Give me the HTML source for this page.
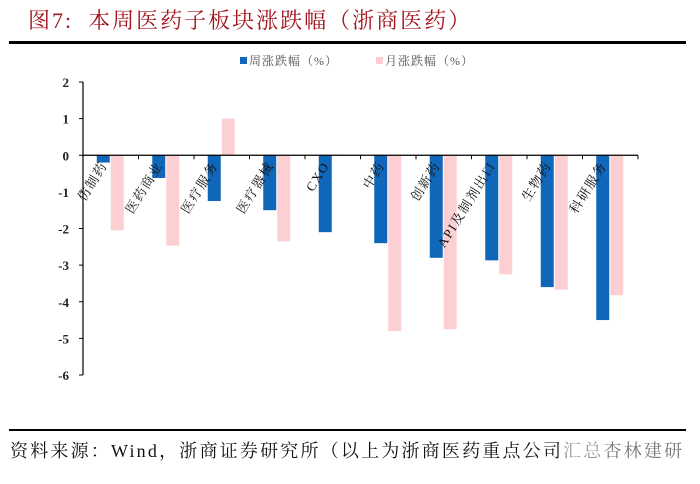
<!DOCTYPE html>
<html><head><meta charset="utf-8">
<style>
body{margin:0;background:#fff;}
#wrap{position:relative;width:700px;height:484px;overflow:hidden;background:#fff;font-family:"Liberation Serif","Noto Serif CJK SC",serif;}
.title{position:absolute;left:28px;top:4px;font-size:22px;letter-spacing:2px;color:#a3151f;font-family:"Liberation Serif","Noto Serif CJK SC",serif;white-space:nowrap;}
.rule{position:absolute;left:9px;width:677px;background:#000;}
.src{position:absolute;left:10px;top:437px;font-size:18px;letter-spacing:2.2px;color:#111;white-space:nowrap;}
</style></head><body>
<div id="wrap">
<div class="title">图7:&nbsp;&nbsp;本周医药子板块涨跌幅（浙商医药）</div>
<div class="rule" style="top:41px;height:3px"></div>
<svg id="chart" width="700" height="484" style="position:absolute;left:0;top:0"></svg>
<div class="rule" style="top:429px;height:2px"></div>
<div class="src">资料来源：Wind，浙商证券研究所（以上为浙商医药重点公司<span style="color:#999">汇总</span><span style="color:#777">杏林建研</span></div>
</div>
<script>
const categories=["仿制药","医药商业","医疗服务","医疗器械","CXO","中药","创新药","API及制剂出口","生物药","科研服务"];
const weekly=[-0.2,-0.62,-1.25,-1.5,-2.1,-2.4,-2.8,-2.87,-3.6,-4.5];
const monthly=[-2.05,-2.47,1.0,-2.35,0.02,-4.8,-4.75,-3.25,-3.67,-3.82];
const yTicks=[2,1,0,-1,-2,-3,-4,-5,-6];
const seriesNames=["周涨跌幅（%）","月涨跌幅（%）"];
const NS="http://www.w3.org/2000/svg";
const svg=document.getElementById('chart');
const x0=83,x1=638,yTop=82,yBot=375,vMax=2,vMin=-6;
const y=v=>yTop+(vMax-v)/(vMax-vMin)*(yBot-yTop);
const band=(x1-x0)/categories.length;
const bw=13;
function mk(t,a){const e=document.createElementNS(NS,t);for(const k in a)e.setAttribute(k,a[k]);svg.appendChild(e);return e;}
let ax=mk('line',{x1:x0,y1:yTop,x2:x0,y2:yBot,stroke:'#000','stroke-width':1.2});


yTicks.forEach(v=>{
 const tk=mk('line',{x1:x0-4,y1:y(v),x2:x0,y2:y(v),stroke:'#000'});
 
 
 const t=mk('text',{x:x0-14,y:y(v)+5,'text-anchor':'end','font-size':13,'font-weight':'bold','font-family':'Liberation Serif,serif',fill:'#222'});
 t.textContent=v;
 
 
});
categories.forEach((c,i)=>{
 const cx=x0+band*i+band/2;
 const wv=weekly[i],mv=monthly[i];
 const b=mk('rect',{x:cx-bw-1,y:Math.min(y(0),y(wv)),width:bw,height:Math.abs(y(wv)-y(0)),fill:'#1066b8'});
 
 
 const p=mk('rect',{x:cx,y:Math.min(y(0),y(mv)),width:bw,height:Math.max(0.5,Math.abs(y(mv)-y(0))),fill:'#fcd0d2'});
 
 
 const tx=mk('line',{x1:x0+band*(i+1),y1:y(0),x2:x0+band*(i+1),y2:y(0)+4,stroke:'#000'});
 
 
 const t=mk('text',{x:0,y:0,'text-anchor':'end','font-size':13,'letter-spacing':1.5,'font-family':'Liberation Serif,Noto Serif CJK SC,serif',fill:'#111',transform:`translate(${cx-3},${y(0)+10}) rotate(-58)`});
 t.textContent=c;
 
 
});
let za=mk('line',{x1:x0,y1:y(0),x2:x1,y2:y(0),stroke:'#000','stroke-width':1.2});


const lg=[[240,'#1066b8'],[376,'#fcd0d2']];
lg.forEach((l,i)=>{
 const r=mk('rect',{x:l[0],y:57,width:7,height:7,fill:l[1]});
 
 
 const t=mk('text',{x:l[0]+9,y:65,'font-size':12,'letter-spacing':1,fill:'#555','font-family':'Liberation Serif,Noto Serif CJK SC,serif'});
 t.textContent=seriesNames[i];
 
 
});
</script>
</body></html>
